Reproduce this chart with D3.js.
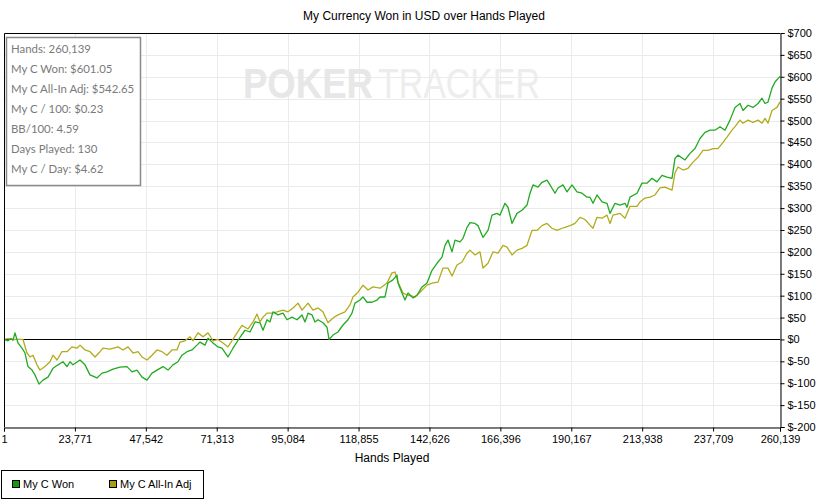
<!DOCTYPE html>
<html>
<head>
<meta charset="utf-8">
<script src="https://cdn.jsdelivr.net/npm/d3@7"></script>
<style>
  body { margin: 0; background: #fff; }
  svg { display: block; font-family: "Liberation Sans", Arial, sans-serif; }
</style>
</head>
<body>
<script>
// hands played -> cumulative USD won
const wonHands = [1, 1341, 2347, 3017, 3688, 4693, 6034, 7040, 8046, 9386, 10392, 11733, 13074, 14750, 16426, 18102,
    19779, 21119, 22125, 23131, 25477, 27154, 28830, 31176, 32853, 34529, 36540, 38887, 41233, 42909, 44586, 46262,
    47938, 49614, 51290, 53302, 54978, 56654, 58330, 59671, 61347, 63023, 64699, 65705, 67381, 68387, 70063, 71739,
    73080, 75092, 76768, 79114, 80791, 82467, 84143, 85819, 86825, 88166, 89171, 90177, 91853, 93529, 94870, 96547,
    98223, 99899, 100904, 101910, 103251, 104257, 105262, 106938, 108279, 108950, 110291, 111967, 113643, 115319,
    116660, 117666, 119342, 120348, 121689, 123365, 125041, 126046, 127723, 128728, 130404, 131745, 132081, 133421,
    134427, 135433, 137109, 138450, 140126, 141802, 143478, 145155, 146831, 147837, 148843, 150183, 151189, 152865,
    153871, 155212, 156217, 157893, 158899, 160575, 162251, 163592, 165268, 166274, 167950, 168956, 170297, 171973,
    173649, 175325, 176331, 177336, 179013, 180354, 182030, 183036, 184712, 185717, 187394, 188735, 190411, 192087,
    193763, 195439, 196445, 197451, 198792, 200468, 202144, 203150, 204826, 206502, 208178, 208849, 209854, 212201,
    213877, 215553, 217229, 218905, 220582, 222258, 223934, 224940, 225945, 228292, 229968, 231644, 233320, 234997,
    236673, 238349, 240025, 241701, 243378, 245054, 246730, 247735, 249411, 251088, 252764, 254105, 255110, 256116,
    257457, 258463, 260139];
const wonUsd = [0, -3, 2, -2, 15, -8, -20, -31, -62, -70, -81, -102, -93, -86, -66, -58,
    -51, -62, -51, -58, -47, -58, -81, -88, -77, -74, -68, -63, -62, -74, -70, -86,
    -93, -77, -70, -62, -70, -58, -51, -36, -28, -24, -13, -6, -13, 3, -8, -17,
    -20, -40, -20, 5, 21, 17, 40, 38, 21, 45, 40, 63, 56, 60, 45, 51,
    45, 56, 40, 60, 56, 40, 45, 38, 28, 0, 10, 17, 33, 45,
    60, 83, 90, 97, 85, 85, 90, 97, 97, 129, 136, 147, 129, 106,
    90, 106, 95, 101, 120, 129, 158, 174, 188, 215, 227, 200, 227, 223,
    231, 256, 267, 265, 260, 233, 249, 284, 288, 284, 311, 302, 265, 288,
    295, 307, 334, 353, 348, 359, 364, 353, 334, 346, 353, 337, 353, 337,
    334, 325, 325, 311, 330, 314, 311, 288, 311, 307, 311, 302, 325, 334,
    357, 357, 368, 360, 375, 371, 368, 414, 421, 410, 425, 436, 459, 473,
    478, 478, 486, 478, 501, 530, 539, 523, 535, 530, 539, 551, 539, 542,
    574, 588, 601.05];

const adjHands = [1, 1341, 3017, 4358, 6369, 7710, 8716, 9722, 11063, 12068, 13744, 15421, 16426, 17767, 19443, 21119,
    22796, 24472, 25477, 27154, 28830, 30506, 32182, 33188, 35534, 38216, 39893, 41569, 43245, 44921, 46262, 47938,
    49614, 51290, 52966, 54642, 56319, 57995, 59000, 60677, 62353, 63358, 65035, 66711, 68387, 70063, 71739, 73416,
    75092, 76433, 78109, 79785, 81796, 83473, 84814, 85819, 86825, 88166, 89842, 91518, 93529, 95206, 96882, 98558,
    99899, 101910, 103586, 105262, 106938, 108615, 110291, 111967, 114313, 115990, 116995, 118672, 120348, 122024,
    123700, 126046, 128393, 130069, 131075, 132081, 133757, 135433, 137780, 139456, 141802, 143814, 145490, 147166,
    148843, 150183, 151859, 153536, 155212, 156217, 157893, 159569, 160575, 162251, 163927, 165604, 167280, 168621,
    170297, 171973, 173649, 175325, 177001, 178677, 180354, 182030, 183706, 185382, 187058, 188064, 189740, 191416,
    193092, 194769, 196445, 197451, 198792, 200468, 202144, 203150, 204156, 206502, 208178, 209854, 212201, 213206,
    214883, 216559, 218235, 219911, 221587, 223934, 224940, 225945, 227621, 229297, 230974, 232650, 234326, 236002,
    237679, 239355, 241031, 242372, 244048, 245054, 246730, 247735, 249411, 251088, 252764, 254105, 255110, 256116,
    257457, 259133, 260139];
const adjUsd = [0, 2, 0, 0, 0, -31, -40, -36, -58, -70, -62, -51, -36, -47, -28, -28,
    -17, -20, -13, -24, -28, -40, -28, -20, -22, -17, -24, -17, -31, -28, -40, -47,
    -36, -24, -28, -36, -24, -24, -6, -3, 6, -3, 15, 6, 15, -3, 0, -8,
    -17, -3, 15, 32, 24, 40, 58, 40, 51, 60, 60, 63, 67, 63, 72, 83,
    67, 83, 67, 72, 63, 38, 49, 56, 63, 79, 97, 108, 124, 113,
    120, 117, 129, 152, 154, 131, 106, 101, 97, 108, 124, 129, 131, 163,
    163, 145, 170, 177, 197, 204, 193, 200, 163, 174, 200, 197, 215, 211,
    193, 204, 208, 215, 249, 249, 260, 265, 254, 249, 254, 256, 260, 265,
    279, 274, 261, 254, 279, 277, 284, 265, 284, 288, 277, 304, 304, 314,
    323, 325, 330, 346, 348, 341, 380, 394, 387, 391, 405, 416, 432, 432,
    436, 436, 450, 462, 478, 486, 501, 494, 501, 496, 501, 494, 505, 494,
    523, 530, 542.65];

const seriesNames = ["My C Won", "My C All-In Adj"];
const seriesColors = ["#22aa22", "#b3ab1e"];
const legendColors = ["#109c10", "#a89f10"];

const xTicks = [1, 23771, 47542, 71313, 95084, 118855, 142626, 166396, 190167, 213938, 237709, 260139];
const yTicks = [-200, -150, -100, -50, 0, 50, 100, 150, 200, 250, 300, 350, 400, 450, 500, 550, 600, 650, 700];

const statLines = ["Hands: 260,139", "My C Won: $601.05", "My C All-In Adj: $542.65", "My C / 100: $0.23",
    "BB/100: 4.59", "Days Played: 130", "My C / Day: $4.62"];

const width = 826, height = 504;
const plot = { left: 4, right: 780, top: 33, bottom: 427 };

const svg = d3.select("body").append("svg")
    .attr("width", width)
    .attr("height", height);

const x = d3.scaleLinear().domain([1, 260139]).range([plot.left, plot.right]);
const y = d3.scaleLinear().domain([-200, 700]).range([plot.bottom, plot.top]);

// title
svg.append("text")
    .attr("x", 424).attr("y", 20)
    .attr("text-anchor", "middle")
    .attr("font-size", "12px")
    .text("My Currency Won in USD over Hands Played");

// grid
svg.append("g").selectAll("line")
    .data(yTicks)
    .enter().append("line")
    .attr("x1", plot.left).attr("x2", plot.right)
    .attr("y1", d => Math.round(y(d)) + 0.5).attr("y2", d => Math.round(y(d)) + 0.5)
    .attr("stroke", "#ebebeb");
svg.append("g").selectAll("line")
    .data(xTicks)
    .enter().append("line")
    .attr("x1", d => Math.round(x(d)) + 0.5).attr("x2", d => Math.round(x(d)) + 0.5)
    .attr("y1", plot.top).attr("y2", plot.bottom)
    .attr("stroke", "#ebebeb");

// watermark, squeezed to fit
function watermark(word, left, w, bold, fill) {
    const t = svg.append("text")
        .attr("font-size", "43px")
        .attr("font-weight", bold ? "bold" : "normal")
        .attr("fill", fill)
        .text(word);
    const k = w / t.node().getComputedTextLength();
    t.attr("transform", `translate(${left},98) scale(${k},1)`);
}
watermark("POKER", 243, 130, true, "#e7e7e7");
watermark("TRACKER", 378, 162, false, "#ededed");

// zero line
svg.append("line")
    .attr("x1", plot.left).attr("x2", plot.right)
    .attr("y1", Math.round(y(0)) + 0.5).attr("y2", Math.round(y(0)) + 0.5)
    .attr("stroke", "#000");

// series
const line = d3.line()
    .x(d => x(d[0]))
    .y(d => y(d[1]));

const series = [
    d3.zip(adjHands, adjUsd),
    d3.zip(wonHands, wonUsd)
];
svg.append("g").selectAll("path")
    .data(series)
    .enter().append("path")
    .attr("d", line)
    .attr("fill", "none")
    .attr("stroke", (d, i) => i == 0 ? seriesColors[1] : seriesColors[0])
    .attr("stroke-width", 1.3)
    .attr("stroke-linejoin", "round");

// frame: top, left
svg.append("path")
    .attr("d", `M${plot.left + 0.5},${plot.bottom}V${plot.top + 0.5}H${plot.right}`)
    .attr("fill", "none")
    .attr("stroke", "#000");

// axes
const yAxis = svg.append("g")
    .attr("transform", `translate(${plot.right + 0.5},0)`)
    .call(d3.axisRight(y).tickValues(yTicks).tickSize(4).tickPadding(3)
        .tickFormat(d => "$" + d));
const xAxis = svg.append("g")
    .attr("transform", `translate(0,${plot.bottom + 0.5})`)
    .call(d3.axisBottom(x).tickValues(xTicks).tickSize(4).tickPadding(4)
        .tickFormat(d3.format(",")));
for (const ax of [xAxis, yAxis]) {
    ax.select(".domain").attr("stroke", "#000");
    ax.selectAll("text").attr("font-size", "11px").attr("font-family", "Liberation Sans, Arial, sans-serif").attr("fill", "#000");
}

svg.append("text")
    .attr("x", 392).attr("y", 462)
    .attr("text-anchor", "middle")
    .attr("font-size", "12px")
    .text("Hands Played");

// stats box
svg.append("rect")
    .attr("x", 6.5).attr("y", 37.5)
    .attr("width", 134).attr("height", 148)
    .attr("fill", "#fff")
    .attr("stroke", "#8a8a8a")
    .attr("stroke-width", 1.5);
svg.append("g").selectAll("text")
    .data(statLines)
    .enter().append("text")
    .attr("x", 11)
    .attr("y", (d, i) => 53 + i * 20)
    .attr("font-family", "Lato, 'Noto Sans', sans-serif")
    .attr("font-size", "11.4px")
    .attr("fill", "#7a7a7a")
    .text(d => d);

// legend
svg.append("rect")
    .attr("x", 1.5).attr("y", 470.5)
    .attr("width", 202).attr("height", 28)
    .attr("fill", "#fff")
    .attr("stroke", "#000");
const legendX = [12, 109];
const items = svg.append("g").selectAll("g")
    .data(seriesNames)
    .enter().append("g")
    .attr("transform", (d, i) => `translate(${legendX[i]},480)`);
items.append("rect")
    .attr("x", 0.5).attr("y", 0.5)
    .attr("width", 7).attr("height", 7)
    .attr("fill", (d, i) => legendColors[i])
    .attr("stroke", "#000");
items.append("text")
    .attr("x", 11).attr("y", 8)
    .attr("font-size", "11px")
    .text(d => d);
</script>
</body>
</html>
